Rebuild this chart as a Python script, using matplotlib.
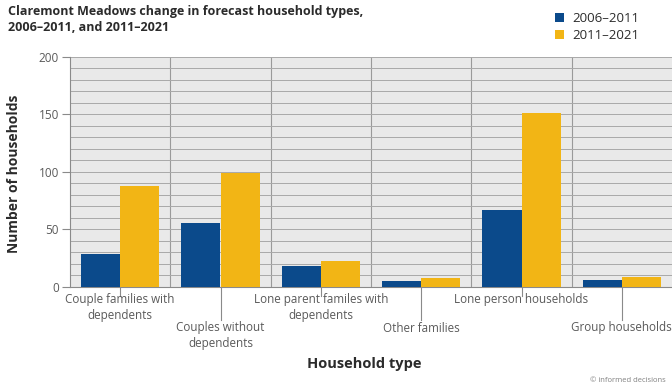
import matplotlib
matplotlib.use("Agg")
import matplotlib.pyplot as plt
import numpy as np
from matplotlib.patches import Patch

# Household change data
categories = [
    "Couple families with\ndependents",
    "Couples without\ndependents",
    "Lone parent familes with\ndependents",
    "Other families",
    "Lone person households",
    "Group households",
]
series_names = ["2006\u20132011", "2011\u20132021"]
values_2006_2011 = [28, 55, 18, 5, 67, 6]
values_2011_2021 = [88, 99, 22, 7, 151, 8]
y_ticks = [0, 50, 100, 150, 200]

BLUE = "#0b4a8b"
YELLOW = "#f2b515"
TEXT = "#2b2b2b"
TICK_TEXT = "#5a5a5a"
LINE = "#8a8a8a"

plt.rcParams["font.family"] = ["Open Sans", "DejaVu Sans"]

fig = plt.figure(figsize=(6.72, 3.88), dpi=100)
ax = fig.add_axes([70 / 672, 1 - 286.5 / 388, 602 / 672, 229.5 / 388])

x = np.arange(len(categories))
w = 0.39
ax.bar(x - w / 2, values_2006_2011, w, color=BLUE, zorder=3)
ax.bar(x + w / 2, values_2011_2021, w, color=YELLOW, zorder=3)

ax.set_xlim(-0.5, len(categories) - 0.5)
ax.set_ylim(0, 200)
ax.set_facecolor("#e9e9e9")

# y axis: labelled every 50, gridlines every 10
ax.set_yticks(y_ticks)
ax.set_yticks(np.arange(0, 201, 10), minor=True)
ax.tick_params(axis="y", which="major", length=6, color=LINE, labelsize=8.5,
               labelcolor=TICK_TEXT, pad=2)
ax.tick_params(axis="y", which="minor", length=0)
ax.grid(axis="y", which="both", color="#a9a9a9", linewidth=0.7, zorder=0)

# x axis: vertical separators between categories
ax.set_xticks(x)
ax.set_xticks(x[:-1] + 0.5, minor=True)
ax.tick_params(axis="x", which="both", length=0, labelbottom=False)
ax.grid(axis="x", which="minor", color="#9a9a9a", linewidth=0.8, zorder=0)
ax.set_axisbelow(True)

for s in ("top", "right"):
    ax.spines[s].set_visible(False)
for s in ("left", "bottom"):
    ax.spines[s].set_color(LINE)
    ax.spines[s].set_linewidth(0.8)

# staggered category labels with leader ticks
trans = ax.get_xaxis_transform()
ax_h = 229.5
for i, label in enumerate(categories):
    if i % 2 == 0:
        tick_end = -9.5 / ax_h
        text_top = -7.0 / ax_h
    else:
        tick_end = -33.5 / ax_h
        text_top = -35.0 / ax_h
    ax.plot([x[i], x[i]], [0, tick_end], transform=trans, color=LINE,
            linewidth=0.8, clip_on=False)
    ax.text(x[i], text_top, label, transform=trans, ha="center", va="top",
            fontsize=8.4, color=TICK_TEXT, linespacing=1.3)

fig.text(8 / 672, 1 - 5 / 388,
         "Claremont Meadows change in forecast household types,\n"
         "2006\u20132011, and 2011\u20132021",
         ha="left", va="top", fontsize=9, fontweight="bold", color=TEXT,
         linespacing=1.3)

fig.text(14 / 672, 1 - 174 / 388, "Number of households", rotation=90,
         ha="center", va="center", fontsize=10, fontweight="bold", color=TEXT)
fig.text(364 / 672, 1 - 364 / 388, "Household type", ha="center",
         va="center", fontsize=10.5, fontweight="bold", color=TEXT)
fig.text(666 / 672, 1 - 381 / 388, "\u00a9 informed decisions", ha="right",
         va="center", fontsize=5.5, color="#808080")

handles = [Patch(facecolor=BLUE, edgecolor="none"),
           Patch(facecolor=YELLOW, edgecolor="none")]
fig.legend(handles, series_names, loc="upper left",
           bbox_to_anchor=(543 / 672, 1 - 0 / 388), frameon=False,
           fontsize=9.5, handlelength=0.7, handleheight=0.7,
           handletextpad=0.6, labelspacing=0.35, labelcolor=TEXT)

fig.savefig("out.png", dpi=100, facecolor="white")
